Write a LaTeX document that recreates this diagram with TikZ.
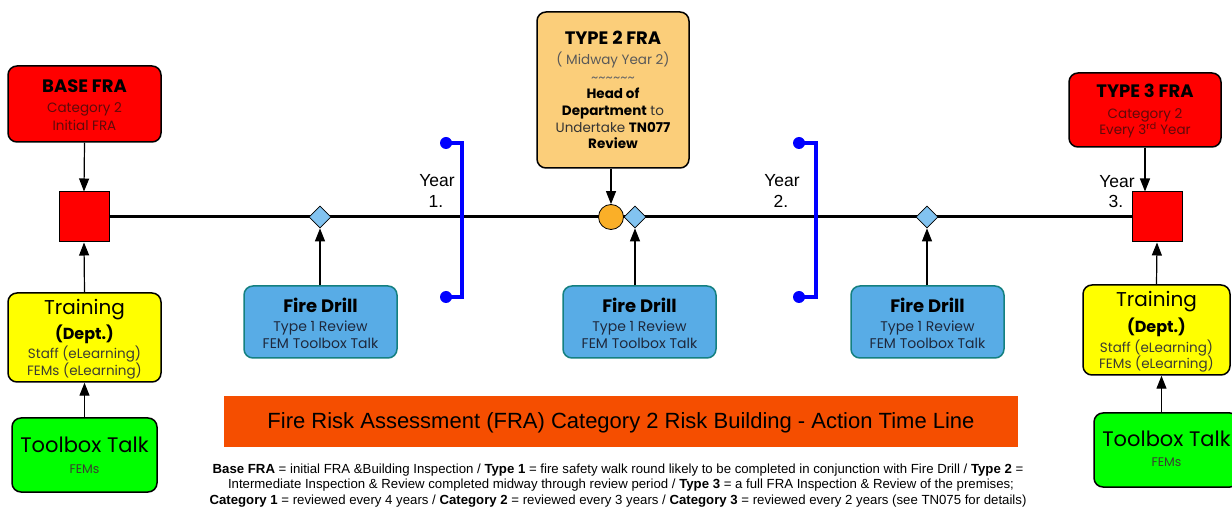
\documentclass[tikz,border=0pt]{standalone}
\usepackage{fontspec}
\setmainfont{Poppins}
\newfontfamily\arialfont{Liberation Sans}
\usetikzlibrary{shapes.geometric,arrows.meta}
\definecolor{fraRed}{RGB}{255,0,0}
\definecolor{fraYellow}{RGB}{255,255,0}
\definecolor{fraGreen}{RGB}{0,255,0}
\definecolor{t2Orange}{RGB}{251,206,122}
\definecolor{circOrange}{RGB}{250,175,40}
\definecolor{diaBlue}{RGB}{130,195,240}
\definecolor{fdBlue}{RGB}{88,172,230}
\definecolor{fdBorder}{RGB}{20,128,128}
\definecolor{titleOrange}{RGB}{245,78,0}
\definecolor{brBlue}{RGB}{0,0,255}
\definecolor{subRed}{RGB}{95,10,10}
\definecolor{subGray}{RGB}{60,60,50}
\definecolor{subBlue}{RGB}{30,40,60}
\newcommand\myfs[1]{\fontsize{#1}{#1}\selectfont}
\begin{document}
\begin{tikzpicture}[x=1pt,y=-1pt,
  box/.style={rounded corners=9pt, draw=black, line width=1.5pt, inner sep=0pt},
  fdbox/.style={rounded corners=9pt, draw=fdBorder, line width=1.5pt, fill=fdBlue, inner sep=0pt, minimum width=153pt, minimum height=72pt},
  t/.style={anchor=base, inner sep=0pt},
  arr/.style={line width=1.2pt, -{Triangle[length=13pt,width=10pt]}},
  sq/.style={draw=black, line width=1pt, fill=fraRed, minimum size=50pt, inner sep=0pt},
  dia/.style={diamond, draw=black, line width=0.8pt, fill=diaBlue, minimum width=22pt, minimum height=22pt, inner sep=0pt},
  dot/.style={circle, fill=brBlue, minimum size=12pt, inner sep=0pt},
  bracket/.style={draw=brBlue, line width=4pt},
  yr/.style={anchor=base, inner sep=0pt, font=\arialfont\myfs{17.5}},
  note/.style={anchor=base, inner sep=0pt, font=\arialfont\myfs{13.2}}
]
\useasboundingbox (0,0) rectangle (1232,510);

% squares and main line
\node[sq] (sqL) at (84,217) {};
\node[sq] (sqR) at (1157,217) {};
\draw[line width=3pt] (sqL.east) -- (sqR.west);
\node[circle, draw=black, line width=0.8pt, fill=circOrange, minimum size=25pt, inner sep=0pt] (circ) at (611,217) {};
\node[dia] (d1) at (320,217) {};
\node[dia] (d2) at (635,217) {};
\node[dia] (d3) at (927,217) {};

% BASE FRA
\node[box, fill=fraRed, minimum width=153pt, minimum height=76pt] (base) at (84.5,104) {};
\node[t] (baseA) at (84.5,93) {\myfs{18}\bfseries BASE FRA};
\node[t, text=subRed] (baseB) at (84.5,113) {\myfs{13.5}Category 2};
\node[t, text=subRed] (baseC) at (84.5,131) {\myfs{13.5}Initial FRA};
\draw[arr] (base.south) -- (sqL.north);

% Training left
\node[box, fill=fraYellow, minimum width=153pt, minimum height=89pt] (trL) at (84.5,337.5) {};
\node[t] (trLA) at (84.5,315) {\myfs{20}Training};
\node[t] (trLB) at (84.5,340) {\myfs{16}\bfseries (Dept.)};
\node[t, text=subGray] (trLC) at (84.5,359) {\myfs{13.5}Staff (eLearning)};
\node[t, text=subGray] (trLD) at (84.5,376) {\myfs{13.5}FEMs (eLearning)};
\draw[arr] (trL.north) -- (sqL.south);

% Toolbox left
\node[box, fill=fraGreen, minimum width=145pt, minimum height=74pt] (tbL) at (84.5,455) {};
\node[t] (tbLA) at (84.5,453) {\myfs{21}Toolbox Talk};
\node[t, text=subGray] (tbLB) at (84.5,473) {\myfs{12.5}FEMs};
\draw[arr] (tbL.north) -- (trL.south);

% TYPE 2 FRA
\node[box, fill=t2Orange, minimum width=152pt, minimum height=156pt] (t2) at (613,90) {};
\node[t] (t2A) at (613,45) {\myfs{18}\bfseries TYPE 2 FRA};
\node[t, text=black!65] (t2B) at (613,65) {\myfs{13.5}( Midway Year 2)};
\node[t, text=black!60] (t2C) at (613,83) {\myfs{14}\textasciitilde\textasciitilde\textasciitilde\textasciitilde\textasciitilde\textasciitilde};
\node[t] (t2D) at (613,99) {\myfs{13.5}\bfseries Head of};
\node[t, text=black!80] (t2E) at (613,116) {\myfs{13.5}\textbf{\color{black}Department} to};
\node[t, text=black!80] (t2F) at (613,133) {\myfs{13.5}Undertake \textbf{\color{black}TN077}};
\node[t] (t2G) at (613,149) {\myfs{13.5}\bfseries Review};
\draw[arr] (circ.north |- t2.south) -- (circ.north);

% TYPE 3 FRA
\node[box, fill=fraRed, minimum width=152pt, minimum height=74pt] (t3) at (1145,110) {};
\node[t] (t3A) at (1145,98) {\myfs{18}\bfseries TYPE 3 FRA};
\node[t, text=subRed] (t3B) at (1145,119) {\myfs{13.5}Category 2};
\node[t, text=subRed] (t3C) at (1145,135) {\myfs{13.5}Every 3\textsuperscript{rd} Year};
\draw[arr] (t3.south) -- (t3.south |- sqR.north);

% Training right
\node[box, fill=fraYellow, minimum width=147pt, minimum height=90pt] (trR) at (1156.5,330) {};
\node[t] (trRA) at (1156.5,307) {\myfs{20}Training};
\node[t] (trRB) at (1156.5,333) {\myfs{16}\bfseries (Dept.)};
\node[t, text=subGray] (trRC) at (1156.5,353) {\myfs{13.5}Staff (eLearning)};
\node[t, text=subGray] (trRD) at (1156.5,369) {\myfs{13.5}FEMs (eLearning)};
\draw[arr] (trR.north) -- (sqR.south);

% Toolbox right
\node[box, fill=fraGreen, minimum width=145pt, minimum height=74pt] (tbR) at (1166.5,450) {};
\node[t] (tbRA) at (1166.5,447) {\myfs{21}Toolbox Talk};
\node[t, text=subGray] (tbRB) at (1166.5,467) {\myfs{12.5}FEMs};
\draw[arr] ([xshift=5pt]tbR.north -| trR.south) -- ([xshift=5pt]trR.south);

% Fire drills
\node[fdbox] (fd1) at (320.5,322) {};
\node[fdbox] (fd2) at (639.5,322) {};
\node[fdbox] (fd3) at (927.5,322) {};
\foreach \n/\x in {fd1/320.5, fd2/639.5, fd3/927.5}{
  \node[t] (\n A) at (\x,313) {\myfs{18}\bfseries Fire Drill};
  \node[t, text=subBlue] (\n B) at (\x,332) {\myfs{14}Type 1 Review};
  \node[t, text=subBlue] (\n C) at (\x,349) {\myfs{14}FEM Toolbox Talk};
}
\draw[arr] (fd1.north -| d1) -- (d1.south);
\draw[arr] (fd2.north -| d2) -- (d2.south);
\draw[arr] (fd3.north -| d3) -- (d3.south);

% brackets
\node[dot] (b1t) at (446,143) {};
\node[dot] (b1b) at (446,297) {};
\coordinate (b1tr) at (462,143);
\coordinate (b1br) at (462,297);
\draw[bracket] (b1t.center) -- (b1tr) -- (b1br) -- (b1b.center);
\node[dot] (b2t) at (799,143) {};
\node[dot] (b2b) at (799,297) {};
\coordinate (b2tr) at (816,143);
\coordinate (b2br) at (816,297);
\draw[bracket] (b2t.center) -- (b2tr) -- (b2br) -- (b2b.center);

% year labels
\node[yr] (y1a) at (437,187) {Year};
\node[yr] (y1b) at (436,208) {1.};
\node[yr] (y2a) at (782,187) {Year};
\node[yr] (y2b) at (781,208) {2.};
\node[yr] (y3a) at (1117,188) {Year};
\node[yr] (y3b) at (1116,208) {3.};

% title bar
\node[fill=titleOrange, minimum width=794pt, minimum height=51pt, inner sep=0pt] (title) at (621,421.5) {};
\node[t] (titleT) at (621,429) {\arialfont\myfs{22}Fire Risk Assessment (FRA) Category 2 Risk Building - Action Time Line};

% footnote
\node[note] (n1) at (618,474) {\textbf{Base FRA} = initial FRA \&Building Inspection / \textbf{Type 1} = fire safety walk round likely to be completed in conjunction with Fire Drill / \textbf{Type 2} =};
\node[note] (n2) at (621,489) {Intermediate Inspection \& Review completed midway through review period / \textbf{Type 3} = a full FRA Inspection \& Review of the premises;};
\node[note] (n3) at (618,504) {\textbf{Category 1} = reviewed every 4 years / \textbf{Category 2} = reviewed every 3 years / \textbf{Category 3} = reviewed every 2 years (see TN075 for details)};
\end{tikzpicture}
\end{document}
